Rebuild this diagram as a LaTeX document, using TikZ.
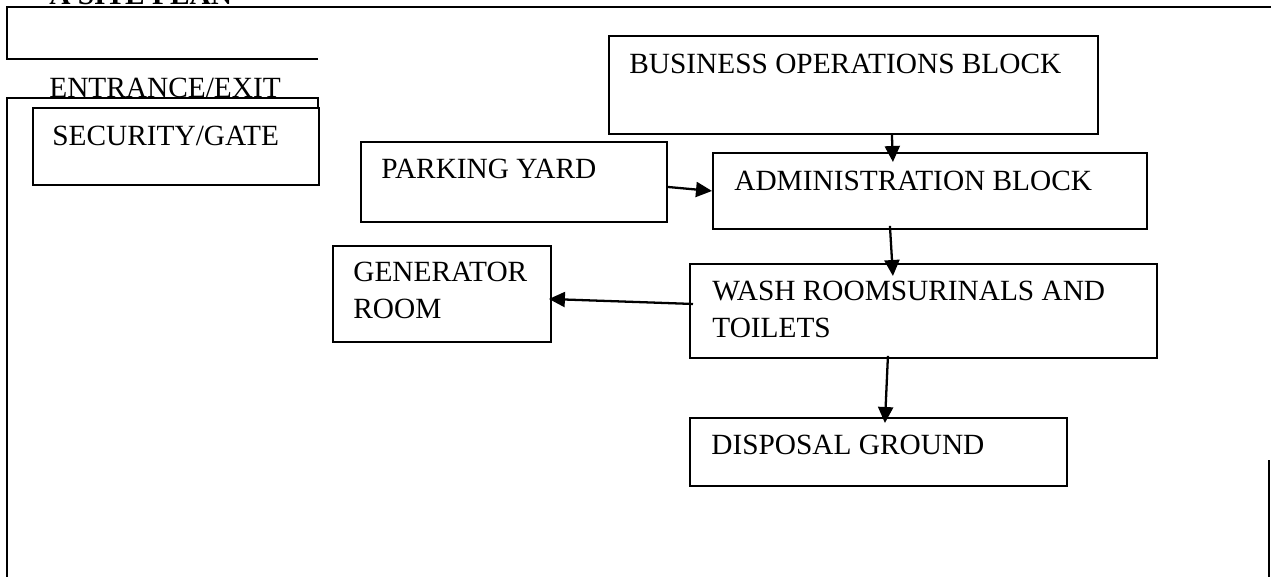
\documentclass[tikz,border=0pt]{standalone}
\usepackage{fontspec}
\setmainfont{Liberation Serif}
\usetikzlibrary{arrows.meta}
\tikzset{%
    room/.style={%
        draw, line width=1.1pt, anchor=north west, inner sep=0pt
    },
    roomtext/.style={%
        anchor=base west, inner sep=0pt, align=left,
        font=\fontsize{16.7}{21}\selectfont
    },
    link/.style={%
        line width=1.3pt, -{Triangle[length=0.32cm,width=0.3cm]}
    }
}

\begin{document}
\begin{tikzpicture}[x=0.02cm,y=-0.02cm]
    \useasboundingbox (0,0) rectangle (1271,576);
    % site boundary
    \draw[line width=0.8pt] (318,59) -- (7,59) -- (7,7) -- (1280,7);
    \draw[line width=0.8pt] (318,107) -- (318,98) -- (7,98) -- (7,590);
    \draw[line width=0.8pt] (1269,460) -- (1269,590);
    \node[roomtext, font=\fontsize{16.7}{21}\selectfont\bfseries] (title) at (49,4) {A SITE PLAN};
    \node[roomtext] (gate) at (49,97) {ENTRANCE/EXIT};
    % blocks
    \node[room, minimum width=5.72cm, minimum height=1.54cm] (sec) at (32,107) {};
    \node[room, minimum width=9.78cm, minimum height=1.96cm] (biz) at (608,35) {};
    \node[room, minimum width=6.12cm, minimum height=1.6cm] (park) at (360,141) {};
    \node[room, minimum width=8.68cm, minimum height=1.52cm] (admin) at (712,152) {};
    \node[room, minimum width=4.36cm, minimum height=1.92cm] (gen) at (332,245) {};
    \node[room, minimum width=9.34cm, minimum height=1.88cm] (wash) at (689,263) {};
    \node[room, minimum width=7.54cm, minimum height=1.36cm] (disp) at (689,417) {};
    \node[roomtext] (sec-t) at (52,145) {SECURITY/GATE};
    \node[roomtext] (biz-t) at (629,73) {BUSINESS OPERATIONS BLOCK};
    \node[roomtext] (park-t) at (381,178) {PARKING YARD};
    \node[roomtext] (admin-t) at (734,190) {ADMINISTRATION BLOCK};
    % two-line labels sit on the baseline of their last line
    \node[roomtext] (gen-t) at (353,318) {GENERATOR\\ROOM};
    \node[roomtext] (wash-t) at (712,337) {WASH ROOMSURINALS AND\\TOILETS};
    \node[roomtext] (disp-t) at (711,454) {DISPOSAL GROUND};
    % flow
    \draw[link] ([xshift=0.77cm]biz.south) -- ([xshift=-0.74cm,yshift=-0.2cm]admin.north);
    \draw[link] ([yshift=-0.1cm]park.east) -- (admin.west);
    \draw[link] ([xshift=-0.8cm,yshift=0.08cm]admin.south) -- ([xshift=-0.61cm,yshift=-0.26cm]wash.north);
    \draw[link] ([xshift=0.08cm,yshift=0.14cm]wash.west) -- ([xshift=-0.06cm,yshift=-0.1cm]gen.east);
    \draw[link] ([xshift=-0.71cm,yshift=0.06cm]wash.south) -- ([xshift=0.13cm,yshift=-0.12cm]disp.north);
\end{tikzpicture}
\end{document}
